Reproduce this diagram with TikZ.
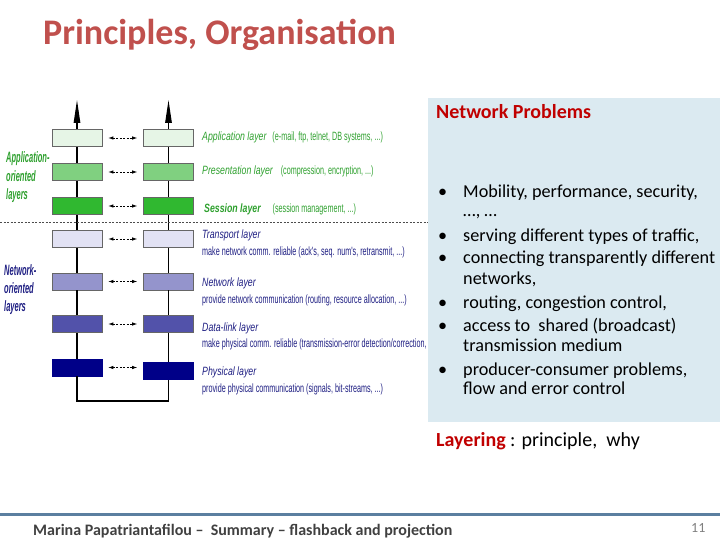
\documentclass[tikz,border=0pt]{standalone}
\usepackage{fontspec}
\setmainfont{Carlito}
\newfontfamily\narrowfont{Liberation Sans}
\usetikzlibrary{arrows.meta}
\definecolor{titlered}{HTML}{C0504D}
\definecolor{darkred}{HTML}{C00000}
\definecolor{panelblue}{HTML}{DBEAF1}
\definecolor{footline}{HTML}{5B7FA0}
\definecolor{appc}{HTML}{E6F5E6}
\definecolor{presc}{HTML}{80D080}
\definecolor{sessc}{HTML}{30B830}
\definecolor{transc}{HTML}{E2E2F4}
\definecolor{netc}{HTML}{9494CC}
\definecolor{dlc}{HTML}{5252AA}
\definecolor{physc}{HTML}{000088}
\definecolor{greentxt}{HTML}{2EA02E}
\definecolor{navytxt}{HTML}{1E1E82}
\newcommand\lname[1]{\scalebox{0.73}[1]{\narrowfont\itshape #1}}
\newcommand\ldesc[1]{\scalebox{0.6}[1]{\narrowfont #1}}
\newcommand\sname[1]{\scalebox{0.5}[1]{\narrowfont\itshape\bfseries #1}}
\begin{document}
\begin{tikzpicture}[x=1pt,y=-1pt,
  layerbox/.style={draw=gray!80!black,line width=0.6pt,minimum width=50pt,minimum height=17pt,inner sep=0pt},
  stackline/.style={draw=black,line width=1.2pt},
  peer/.style={dashed,dash pattern=on 2pt off 1.5pt,line width=0.7pt,{Latex[length=5pt,width=3.5pt]}-{Latex[length=5pt,width=3.5pt]},shorten <=6pt,shorten >=6pt},
  lbl/.style={anchor=base west,inner sep=0pt,font=\fontsize{12}{12}\selectfont},
  side/.style={anchor=base west,inner sep=0pt,font=\fontsize{15}{15}\selectfont},
  bul/.style={anchor=base west,inner sep=0pt,font=\fontsize{18.2}{18.2}\selectfont}]
\useasboundingbox (0,0) rectangle (720,540);
% title
\node[anchor=base west,inner sep=0pt,text=titlered,font=\fontsize{36}{36}\selectfont\bfseries] (title) at (43,45) {Principles, Organisation};
% stack tops
\coordinate (topL) at (77,100);
\coordinate (topR) at (168.5,100);
\coordinate (botL) at (77,401);
\coordinate (botR) at (168.5,401);
% layer boxes
\node[layerbox,fill=appc] (appL) at (77,138) {};
\node[layerbox,fill=appc] (appR) at (168.5,138) {};
\node[layerbox,fill=presc] (presL) at (77,172) {};
\node[layerbox,fill=presc] (presR) at (168.5,172) {};
\node[layerbox,fill=sessc] (sessL) at (77,206) {};
\node[layerbox,fill=sessc] (sessR) at (168.5,206) {};
\node[layerbox,fill=transc] (transL) at (77,239) {};
\node[layerbox,fill=transc] (transR) at (168.5,239) {};
\node[layerbox,fill=netc] (netL) at (77,281.5) {};
\node[layerbox,fill=netc] (netR) at (168.5,281.5) {};
\node[layerbox,fill=dlc] (dlL) at (77,324) {};
\node[layerbox,fill=dlc] (dlR) at (168.5,324) {};
\node[layerbox,fill=physc,draw=physc] (physL) at (77,367.5) {};
\node[layerbox,fill=physc,draw=physc] (physR) at (168.5,371) {};
% vertical connections
\foreach \s in {L,R}{
  \draw[stackline] (app\s.south) -- (pres\s.north);
  \draw[stackline] (pres\s.south) -- (sess\s.north);
  \draw[stackline] (sess\s.south) -- (trans\s.north);
  \draw[stackline] (trans\s.south) -- (net\s.north);
  \draw[stackline] (net\s.south) -- (dl\s.north);
  \draw[stackline] (dl\s.south) -- (phys\s.north);
  \draw[stackline,-{Triangle[length=23pt,width=6.5pt]}] (app\s.north) -- (top\s);
}
\draw[stackline] (physL.south) -- (botL) -- (botR) -- (physR.south);
% peer arrows
\draw[peer] (appL) -- (appR);
\draw[peer] (presL) -- (presR);
\draw[peer] (sessL) -- (sessR);
\draw[peer] (transL) -- (transR);
\draw[peer] (netL) -- (netR);
\draw[peer] (dlL) -- (dlR);
\draw[peer] (physL.east) -- (physL.east -| physR.west);
% separator
\coordinate (sepA) at (0,222);
\coordinate (sepB) at (428,222);
\draw[gray!60!black,line width=0.6pt,dash pattern=on 2pt off 1.5pt] (sepA) -- (sepB);
% side labels
\node[side,text=greentxt] (ao1) at (6,163) {\sname{Application-}};
\node[side,text=greentxt] (ao2) at (6,182) {\sname{oriented}};
\node[side,text=greentxt] (ao3) at (6,200) {\sname{layers}};
\node[side,text=navytxt] (no1) at (4,275) {\sname{Network-}};
\node[side,text=navytxt] (no2) at (4,293) {\sname{oriented}};
\node[side,text=navytxt] (no3) at (4,311) {\sname{layers}};
% layer labels
\node[lbl,text=greentxt] (l1) at (202,141) {\lname{Application layer}\hspace{6pt}\ldesc{(e-mail, ftp, telnet, DB systems, ...)}};
\node[lbl,text=greentxt] (l2) at (202,175) {\lname{Presentation layer}\hspace{8pt}\ldesc{(compression, encryption, ...)}};
\node[lbl,text=greentxt] (l3) at (204,213) {\lname{\bfseries Session layer}\hspace{12pt}\ldesc{(session management, ...)}};
\node[lbl,text=navytxt] (l4) at (202,239) {\lname{Transport layer}};
\node[lbl,text=navytxt] (l4b) at (202,255) {\ldesc{make network comm. reliable (ack's, seq. num's, retransmit, ...)}};
\node[lbl,text=navytxt] (l5) at (202,286) {\lname{Network layer}};
\node[lbl,text=navytxt] (l5b) at (202,303) {\ldesc{provide network communication (routing, resource allocation, ...)}};
\node[lbl,text=navytxt] (l6) at (202,331) {\lname{Data-link layer}};
\node[lbl,text=navytxt] (l6b) at (202,347) {\ldesc{make physical comm. reliable (transmission-error detection/correction,}};
\node[lbl,text=navytxt] (l7) at (202,375) {\lname{Physical layer}};
\node[lbl,text=navytxt] (l7b) at (202,392) {\ldesc{provide physical communication (signals, bit-streams, ...)}};
% panel
\fill[panelblue] (428,98) rectangle (720,422);
\node[anchor=base west,inner sep=0pt,text=darkred,font=\fontsize{20}{20}\selectfont\bfseries] (np) at (436,119) {Network Problems};
\foreach \y in {197,241,263,308,331,375}{
  \node[bul] at (438,\y) {•};
}
\node[bul] (b1) at (463,197) {Mobility, performance, security,};
\node[bul] (b1b) at (463,217) {…, …};
\node[bul] (b2) at (463,241) {serving different types of traffic,};
\node[bul] (b3) at (463,263) {connecting transparently different};
\node[bul] (b3b) at (463,284) {networks,};
\node[bul] (b4) at (463,308) {routing, congestion control,};
\node[bul] (b5) at (463,331) {access to\ \ shared (broadcast)};
\node[bul] (b5b) at (463,351) {transmission medium};
\node[bul] (b6) at (463,375) {producer-consumer problems,};
\node[bul] (b6b) at (463,394) {flow and error control};
% layering
\node[anchor=base west,inner sep=0pt,font=\fontsize{20}{20}\selectfont] (lay) at (436,446) {\textcolor{darkred}{\bfseries Layering} : principle,\ \ why};
% footer
\coordinate (fA) at (0,514.5);
\coordinate (fB) at (720,514.5);
\draw[footline,line width=3pt] (fA) -- (fB);
\node[anchor=base west,inner sep=0pt,text=black!75,font=\fontsize{16}{16}\selectfont\bfseries] (foot) at (33,535) {Marina Papatriantafilou –\ \ Summary – flashback and projection};
\node[anchor=base west,inner sep=0pt,text=black!50,font=\fontsize{14}{14}\selectfont] (pg) at (691,532) {11};
\end{tikzpicture}
\end{document}
